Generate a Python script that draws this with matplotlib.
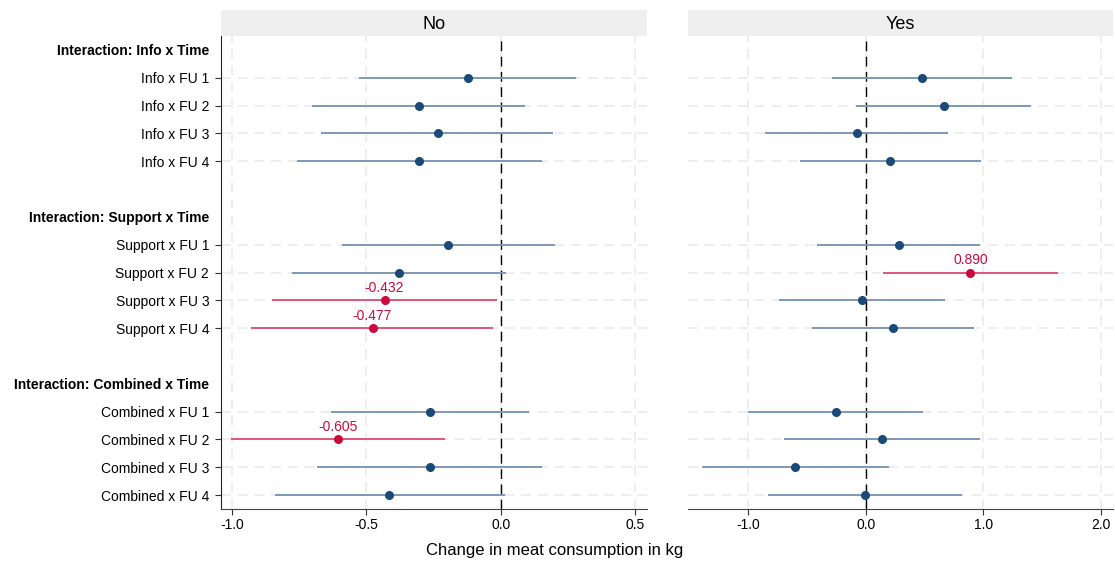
import matplotlib.pyplot as plt
import numpy as np

plt.rcParams['font.family'] = ['Liberation Sans', 'DejaVu Sans']

# categories
groups = ['Info', 'Support', 'Combined']
follow_ups = ['FU 1', 'FU 2', 'FU 3', 'FU 4']
panels = ['No', 'Yes']

# panel "No": estimate, lower and upper bound
est_no = [-0.124, -0.305, -0.235, -0.304,
          -0.196, -0.379, -0.432, -0.477,
          -0.263, -0.605, -0.265, -0.414]
lo_no = [-0.529, -0.701, -0.667, -0.759,
         -0.591, -0.775, -0.852, -0.928,
         -0.633, -1.001, -0.684, -0.840]
hi_no = [0.280, 0.089, 0.193, 0.152,
         0.200, 0.019, -0.015, -0.028,
         0.105, -0.206, 0.154, 0.015]
sig_no = [False, False, False, False,
          False, False, True, True,
          False, True, False, False]

# panel "Yes"
est_yes = [0.475, 0.666, -0.078, 0.209,
           0.278, 0.890, -0.033, 0.227,
           -0.257, 0.140, -0.603, -0.009]
lo_yes = [-0.287, -0.081, -0.857, -0.561,
          -0.418, 0.149, -0.737, -0.463,
          -1.000, -0.696, -1.394, -0.830]
hi_yes = [1.242, 1.409, 0.699, 0.982,
          0.970, 1.633, 0.675, 0.922,
          0.487, 0.976, 0.197, 0.821]
sig_yes = [False, False, False, False,
           False, True, False, False,
           False, False, False, False]

xticks_no = [-1.0, -0.5, 0.0, 0.5]
xticks_yes = [-1.0, 0.0, 1.0, 2.0]

# row layout: header, 4 items, blank gap between groups
row_labels = []
row_kind = []
item_rows = []
for gi, g in enumerate(groups):
    row_labels.append('Interaction: %s x Time' % g)
    row_kind.append('header')
    for fu in follow_ups:
        item_rows.append(len(row_labels))
        row_labels.append('%s x %s' % (g, fu))
        row_kind.append('item')
    if gi < len(groups) - 1:
        row_labels.append('')
        row_kind.append('blank')
item_rows = np.array(item_rows)

BLUE_PT = '#1b4a78'
BLUE_LN = '#7d98b5'
RED_PT = '#cc0a3c'
RED_LN = '#e0557a'
GRID = '#ebebeb'

W, H = 1115, 563
fig = plt.figure(figsize=(W / 100, H / 100), dpi=100)

top, bottom = 36, 509
boxes = [(221, 647), (688, 1113)]
data = [(est_no, lo_no, hi_no, sig_no, xticks_no, (-1.04, 0.543)),
        (est_yes, lo_yes, hi_yes, sig_yes, xticks_yes, (-1.515, 2.105))]

for p, ((x0, x1), (est, lo, hi, sig, xt, xl)) in enumerate(zip(boxes, data)):
    ax = fig.add_axes([x0 / W, 1 - bottom / H, (x1 - x0) / W, (bottom - top) / H])
    # strip header
    hx = fig.add_axes([x0 / W, 1 - top / H, (x1 - x0) / W, 26 / H])
    hx.set_facecolor('#efefef')
    hx.set_xticks([])
    hx.set_yticks([])
    for s in hx.spines.values():
        s.set_visible(False)
    hx.text(0.5, 0.45, panels[p], ha='center', va='center', fontsize=13)

    ax.set_xlim(*xl)
    ax.set_ylim(len(row_labels) - 0.5, -0.5)
    ax.set_xticks(xt)
    ax.set_xticklabels(['%.1f' % v for v in xt], fontsize=10)
    ax.grid(axis='x', color=GRID, linestyle=(0, (6, 4)), linewidth=1.2)
    for r in item_rows:
        ax.axhline(r, color=GRID, linestyle=(0, (6, 4)), linewidth=1.2, zorder=0)
    ax.set_axisbelow(True)
    ax.axvline(0, color='black', linestyle=(0, (7, 4)), linewidth=1.0, zorder=1)

    for i, r in enumerate(item_rows):
        ln = RED_LN if sig[i] else BLUE_LN
        pt = RED_PT if sig[i] else BLUE_PT
        ax.plot([lo[i], hi[i]], [r, r], color=ln, linewidth=1.4, zorder=2,
                solid_capstyle='butt')
        ax.plot(est[i], r, 'o', color=pt, markersize=5.5, zorder=3)
        if sig[i]:
            ax.annotate('%.3f' % est[i], (est[i], r), xytext=(0, 4),
                        textcoords='offset points', ha='center', va='bottom',
                        color=RED_PT, fontsize=10)

    for s in ['top', 'right']:
        ax.spines[s].set_visible(False)
    ax.spines['bottom'].set_color('#444444')
    ax.tick_params(axis='x', length=4.5, color='#333333', pad=2)

    if p == 0:
        ax.set_yticks(range(len(row_labels)))
        ax.set_yticklabels(row_labels, fontsize=10)
        ax.tick_params(axis='y', length=4.5, color='#333333', pad=4)
        ax.spines['left'].set_color('#222222')
        for tick, kind in zip(ax.yaxis.get_major_ticks(), row_kind):
            if kind != 'item':
                tick.tick1line.set_visible(False)
            if kind == 'header':
                tick.label1.set_fontweight('bold')
    else:
        ax.set_yticks([])
        ax.spines['left'].set_visible(False)

fig.text(0.497, 1 - 551 / H, 'Change in meat consumption in kg', ha='center',
         va='center', fontsize=12)

fig.savefig('out.png', dpi=100)
